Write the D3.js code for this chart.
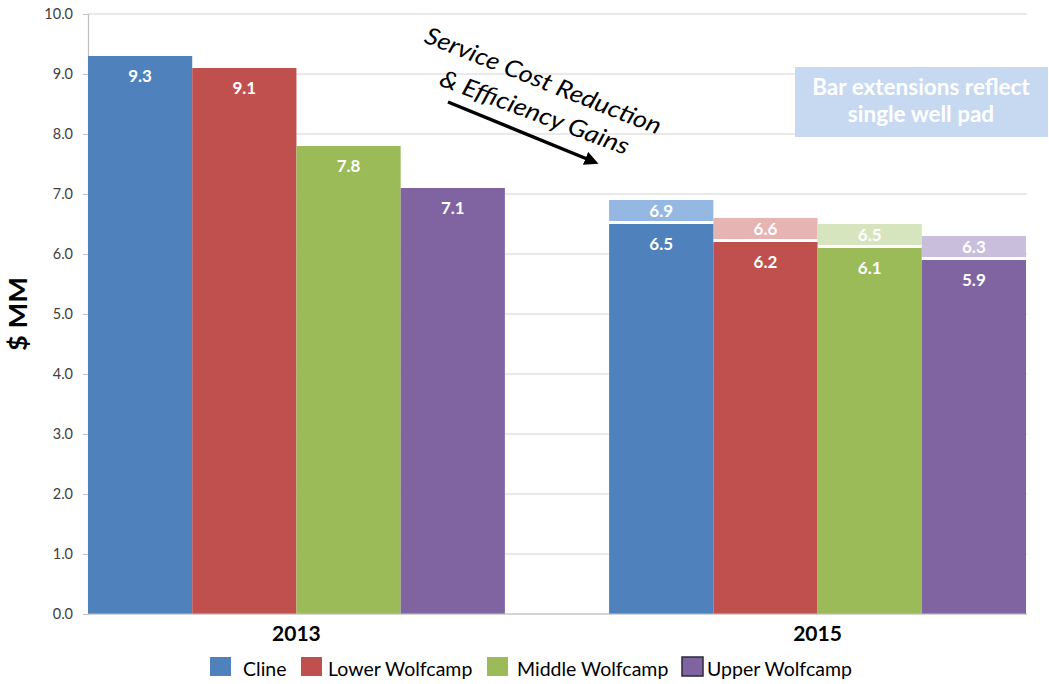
<!DOCTYPE html>
<html>
<head>
<meta charset="utf-8">
<script src="https://cdn.jsdelivr.net/npm/d3@7"></script>
<style>
  html, body { margin: 0; padding: 0; background: #ffffff; }
  svg { display: block; }
</style>
</head>
<body>
<svg id="chart" width="1049" height="684"></svg>
<script>
// Well cost by formation, $MM
const years = ["2013", "2015"];
const formations = ["Cline", "Lower Wolfcamp", "Middle Wolfcamp", "Upper Wolfcamp"];
const values2013 = [9.3, 9.1, 7.8, 7.1];
const values2015 = [6.5, 6.2, 6.1, 5.9];
const padValues2015 = [6.9, 6.6, 6.5, 6.3];   // single well pad totals
const yTicks = [0, 1, 2, 3, 4, 5, 6, 7, 8, 9, 10];

const colors = ["#4f81bd", "#c0504d", "#9bbb59", "#8064a2"];
const lightColors = ["#95b8e3", "#e6b4b3", "#d6e5bd", "#c9bedb"];

const font = "Lato, 'Open Sans', 'DejaVu Sans', sans-serif";

const svg = d3.select("#chart");
const margin = { left: 88, right: 1027, top: 14, bottom: 614 };

const y = d3.scaleLinear().domain([0, 10]).range([margin.bottom, margin.top]);
const x0 = d3.scaleBand().domain(years).range([88, 1026]).paddingInner(0.2).paddingOuter(0);
const x1 = d3.scaleBand().domain(formations).range([0, x0.bandwidth()]).padding(0);

// gridlines
svg.append("g")
  .selectAll("line")
  .data(yTicks)
  .join("line")
  .attr("x1", margin.left).attr("x2", margin.right)
  .attr("y1", d => y(d)).attr("y2", d => y(d))
  .attr("stroke", "#d4d4d4").attr("stroke-width", 1.2);

// y axis
const yAxis = svg.append("g")
  .attr("transform", `translate(${margin.left},0)`)
  .call(d3.axisLeft(y).tickValues(yTicks).tickFormat(d3.format(".1f")).tickSize(5).tickPadding(10));
yAxis.select(".domain").attr("stroke", "#bfbfbf").attr("stroke-width", 1.2);
yAxis.selectAll(".tick line").attr("stroke", "#bfbfbf");
yAxis.selectAll(".tick text")
  .attr("fill", "#404040")
  .style("font-family", font)
  .style("font-size", "14.5px");

// y title
svg.append("text")
  .attr("transform", `translate(27,${y(5)}) rotate(-90)`)
  .attr("text-anchor", "middle")
  .attr("textLength", 74).attr("lengthAdjust", "spacingAndGlyphs")
  .style("font-family", font)
  .style("font-size", "25px").style("font-weight", "bold")
  .attr("fill", "#000")
  .text("$ MM");

function drawGroup(year, base, ext) {
  const g = svg.append("g").attr("transform", `translate(${x0(year)},0)`);
  const rows = formations.map((f, i) => ({ f, i, v: base[i], e: ext ? ext[i] : null }));

  if (ext) {
    // extension segments (single well pad)
    g.selectAll("rect.ext").data(rows).join("rect")
      .attr("class", "ext")
      .attr("x", d => x1(d.f)).attr("width", x1.bandwidth())
      .attr("y", d => y(d.e)).attr("height", d => y(d.v) - y(d.e) - 3)
      .attr("fill", d => lightColors[d.i]);
    g.selectAll("text.ext").data(rows).join("text")
      .attr("class", "ext")
      .attr("x", d => x1(d.f) + x1.bandwidth() / 2)
      .attr("y", d => (y(d.e) + y(d.v)) / 2 - 1)
      .attr("dy", "0.35em")
      .attr("text-anchor", "middle")
      .style("font-family", font).style("font-size", "17px").style("font-weight", "bold")
      .attr("fill", "#ffffff")
      .text(d => d3.format(".1f")(d.e));
  }

  g.selectAll("rect.base").data(rows).join("rect")
    .attr("class", "base")
    .attr("x", d => x1(d.f)).attr("width", x1.bandwidth())
    .attr("y", d => y(d.v)).attr("height", d => y(0) - y(d.v))
    .attr("fill", d => colors[d.i]);

  g.selectAll("text.base").data(rows).join("text")
    .attr("class", "base")
    .attr("x", d => x1(d.f) + x1.bandwidth() / 2)
    .attr("y", d => y(d.v) + 20)
    .attr("dy", "0.35em")
    .attr("text-anchor", "middle")
    .style("font-family", font).style("font-size", "17px").style("font-weight", "bold")
    .attr("fill", "#ffffff")
    .text(d => d3.format(".1f")(d.v));
}

drawGroup("2013", values2013, null);
drawGroup("2015", values2015, padValues2015);

// x axis baseline and category labels
svg.append("line")
  .attr("x1", margin.left).attr("x2", margin.right)
  .attr("y1", y(0)).attr("y2", y(0))
  .attr("stroke", "#bfbfbf").attr("stroke-width", 1.2);
svg.append("g").selectAll("text").data(years).join("text")
  .attr("x", d => x0(d) + x0.bandwidth() / 2)
  .attr("y", 634).attr("dy", "0.35em")
  .attr("text-anchor", "middle")
  .style("font-family", font).style("font-size", "21px").style("font-weight", "bold")
  .attr("fill", "#000")
  .text(d => d);

// legend
const swatchX = [210, 301, 487, 682];
const labelX = [243, 328, 517, 707];
const leg = svg.append("g").selectAll("g").data(formations).join("g");
leg.append("rect")
  .attr("x", (d, i) => swatchX[i]).attr("y", 657)
  .attr("width", 21).attr("height", 19)
  .attr("fill", (d, i) => colors[i])
  .attr("stroke", (d, i) => i === 3 ? "#2a2a3a" : "none")
  .attr("stroke-width", 1.5);
leg.append("text")
  .attr("x", (d, i) => labelX[i]).attr("y", 676)
  .style("font-family", font).style("font-size", "19.5px")
  .attr("fill", "#000")
  .text(d => d);

// annotation: cost reduction arrow
const note = svg.append("g");
note.append("defs").append("marker")
  .attr("id", "arrowhead").attr("viewBox", "0 0 10 10")
  .attr("refX", 5).attr("refY", 5)
  .attr("markerWidth", 4).attr("markerHeight", 4)
  .attr("orient", "auto")
  .append("path").attr("d", "M0,0 L10,5 L0,10 Z").attr("fill", "#000");
note.append("line")
  .attr("x1", 448).attr("y1", 102).attr("x2", 592).attr("y2", 161)
  .attr("stroke", "#000").attr("stroke-width", 3.5)
  .attr("marker-end", "url(#arrowhead)");
note.append("text")
  .attr("transform", "translate(423,42) rotate(21.6)")
  .attr("textLength", 252).attr("lengthAdjust", "spacingAndGlyphs")
  .style("font-family", font).style("font-size", "24px").style("font-style", "italic")
  .attr("fill", "#000")
  .text("Service Cost Reduction");
note.append("text")
  .attr("transform", "translate(438,85) rotate(20.5)")
  .attr("textLength", 200).attr("lengthAdjust", "spacingAndGlyphs")
  .style("font-family", font).style("font-size", "24px").style("font-style", "italic")
  .attr("fill", "#000")
  .text("& Efficiency Gains");

// text box
const box = svg.append("g");
box.append("rect")
  .attr("x", 795).attr("y", 67).attr("width", 253).attr("height", 70)
  .attr("fill", "#c6d9f1");
box.append("text")
  .attr("x", 921).attr("text-anchor", "middle")
  .style("font-family", font).style("font-size", "22.5px").style("font-weight", "bold")
  .attr("fill", "#ffffff")
  .selectAll("tspan").data(["Bar extensions reflect", "single well pad"]).join("tspan")
  .attr("x", 921).attr("y", (d, i) => 95 + i * 27)
  .text(d => d);
</script>
</body>
</html>
